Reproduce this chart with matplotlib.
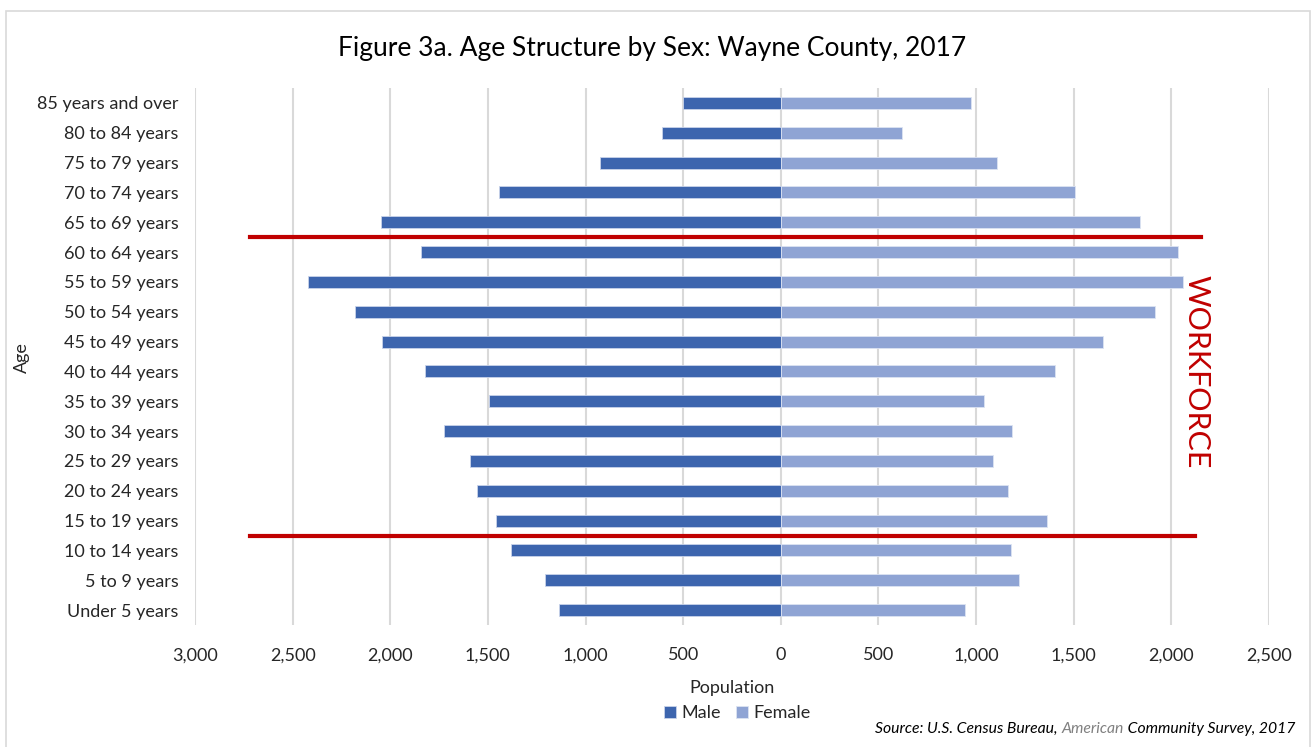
import numpy as np
import matplotlib.pyplot as plt
from matplotlib.patches import Rectangle
from matplotlib.ticker import FuncFormatter

plt.rcParams["font.family"] = ["Lato", "DejaVu Sans"]

age_groups = ["Under 5 years", "5 to 9 years", "10 to 14 years", "15 to 19 years",
              "20 to 24 years", "25 to 29 years", "30 to 34 years", "35 to 39 years",
              "40 to 44 years", "45 to 49 years", "50 to 54 years", "55 to 59 years",
              "60 to 64 years", "65 to 69 years", "70 to 74 years", "75 to 79 years",
              "80 to 84 years", "85 years and over"]
male = [1137, 1209, 1383, 1460, 1557, 1593, 1726, 1496, 1824, 2044,
        2182, 2423, 1844, 2049, 1445, 927, 610, 502]
female = [943, 1219, 1178, 1363, 1163, 1086, 1183, 1040, 1404, 1650,
          1916, 2059, 2034, 1839, 1506, 1107, 620, 973]
x_ticks = [-3000, -2500, -2000, -1500, -1000, -500, 0, 500, 1000, 1500, 2000, 2500]

# workforce bracket: (y between categories, x start, x end)
bracket_top = (12.5, -2720, 2152)
bracket_bottom = (2.5, -2720, 2121)

male_color = "#3D65AE"
female_color = "#8FA4D4"
red = "#C00000"

fig = plt.figure(figsize=(13.12, 7.47), dpi=100)
ax = fig.add_axes([0.1486, 0.1633, 0.8186, 0.7189])

y = np.arange(len(age_groups))
ax.barh(y, -np.array(male), height=0.4, color=male_color, edgecolor="#C9D3EA",
        linewidth=0.6, label="Male", zorder=3)
ax.barh(y, female, height=0.4, color=female_color, edgecolor="#DCE3F2",
        linewidth=0.6, label="Female", zorder=3)

ax.set_xlim(-3000, 2500)
ax.set_ylim(-0.5, len(age_groups) - 0.5)
ax.set_xticks(x_ticks)
ax.xaxis.set_major_formatter(FuncFormatter(lambda v, p: f"{abs(int(v)):,}"))
ax.set_yticks(y)
ax.set_yticklabels(age_groups)
ax.tick_params(axis="both", length=0, labelsize=13, colors="#262626")
ax.tick_params(axis="y", pad=12)
ax.tick_params(axis="x", pad=16)
ax.grid(axis="x", color="#D9D9D9", linewidth=1.5, zorder=0)
for s in ax.spines.values():
    s.set_visible(False)

ax.set_xlabel("Population", fontsize=13, color="#262626", labelpad=12)
fig.text(0.017, 0.522, "Age", rotation=90, fontsize=13, color="#262626",
         ha="center", va="center")
fig.text(0.497, 0.935, "Figure 3a. Age Structure by Sex: Wayne County, 2017",
         fontsize=19, color="#000000", ha="center", va="center")

for yy, x0, x1 in (bracket_top, bracket_bottom):
    ax.plot([x0, x1], [yy, yy], color=red, linewidth=3, clip_on=False, zorder=5)
ax.text(2128, 8.0, "WORKFORCE", rotation=-90, color=red, fontsize=22,
        ha="center", va="center", zorder=6)

leg = fig.legend(loc="center", bbox_to_anchor=(0.562, 0.045), ncol=2, frameon=False,
                 fontsize=13, handlelength=0.7, handleheight=0.7, handletextpad=0.3,
                 columnspacing=0.8, labelcolor="#262626")

# figure border
fig.patches.append(Rectangle((6 / 1312, -0.01), 1304 / 1312, 1 - 11 / 747 + 0.01,
                             transform=fig.transFigure, fill=False,
                             edgecolor="#D9D9D9", linewidth=1.2))

# source line with grey "American"
parts = [("Source: U.S. Census Bureau, ", "#000000"), ("American", "#808080"),
         (" Community Survey, 2017", "#000000")]
fig.canvas.draw()
renderer = fig.canvas.get_renderer()
x_right = 1295
for txt, col in reversed(parts):
    t = fig.text(x_right / 1312, 1 - 729 / 747, txt, fontsize=11.3, style="italic",
                 color=col, ha="right", va="center")
    bb = t.get_window_extent(renderer)
    x_right -= bb.width

fig.savefig("out.png", dpi=100)
